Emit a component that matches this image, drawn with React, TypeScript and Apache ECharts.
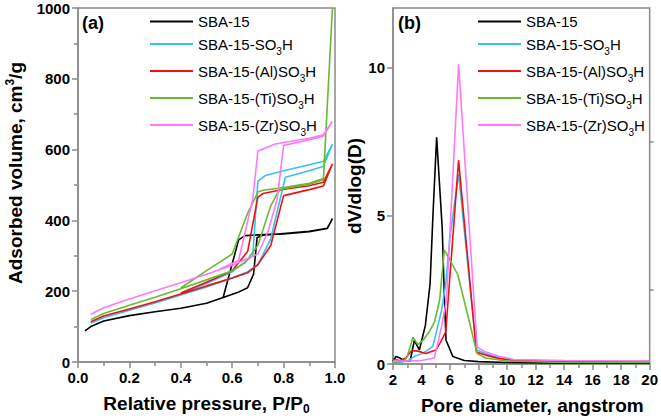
import React, { useEffect, useRef } from 'react';
import * as echarts from 'echarts';

const FONT = "'Liberation Sans', Arial, sans-serif";
const AXIS_COLOR = '#8a8a8a';

const sampleNames = ['SBA-15', 'SBA-15-SO3H', 'SBA-15-(Al)SO3H', 'SBA-15-(Ti)SO3H', 'SBA-15-(Zr)SO3H'];
const sampleColors = ['#000000', '#36c2f0', '#ee1111', '#66bb33', '#ff78f8'];

// Isotherms (a): [P/P0, volume cm3/g], adsorption then desorption branch
const isoSBA15 = [
  [0.027, 88], [0.05, 100], [0.1, 116], [0.2, 131], [0.3, 142], [0.4, 152], [0.5, 166], [0.565, 182],
  [0.62, 196], [0.66, 210], [0.683, 248], [0.697, 352], [0.72, 358], [0.8, 363], [0.9, 369], [0.97, 378], [0.99, 405],
  [0.97, 377], [0.9, 368], [0.8, 362], [0.7, 359], [0.65, 357], [0.625, 345], [0.565, 183],
];
const isoSO3H = [
  [0.05, 110], [0.1, 125], [0.2, 146], [0.3, 167], [0.4, 189], [0.5, 212], [0.6, 237], [0.66, 255],
  [0.7, 275], [0.75, 348], [0.78, 440], [0.807, 522], [0.9, 540], [0.955, 553], [0.99, 615],
  [0.955, 567], [0.9, 557], [0.8, 540], [0.73, 527], [0.7, 511], [0.68, 300], [0.6, 255], [0.5, 222], [0.4, 192],
];
const isoAl = [
  [0.05, 114], [0.1, 130], [0.2, 150], [0.3, 170], [0.4, 192], [0.5, 215], [0.6, 237], [0.66, 252],
  [0.7, 275], [0.75, 329], [0.8, 470], [0.9, 487], [0.955, 497], [0.99, 560],
  [0.955, 508], [0.9, 498], [0.8, 488], [0.72, 476], [0.7, 466], [0.66, 312], [0.6, 258], [0.5, 225], [0.4, 195],
];
const isoTi = [
  [0.05, 120], [0.1, 137], [0.2, 160], [0.3, 183], [0.4, 207], [0.5, 232], [0.6, 258], [0.65, 280],
  [0.7, 330], [0.75, 441], [0.78, 482], [0.8, 490], [0.9, 502], [0.955, 515], [0.99, 1000],
  [0.955, 518], [0.9, 505], [0.8, 493], [0.72, 485], [0.7, 480], [0.66, 420], [0.6, 305], [0.5, 258], [0.4, 209],
];
const isoZr = [
  [0.05, 135], [0.1, 153], [0.2, 178], [0.3, 201], [0.4, 224], [0.5, 248], [0.6, 273], [0.7, 305],
  [0.74, 370], [0.775, 460], [0.8, 612], [0.9, 628], [0.955, 638], [0.99, 680],
  [0.955, 642], [0.9, 632], [0.8, 620], [0.765, 615], [0.7, 596], [0.68, 460], [0.625, 287], [0.55, 262],
];

// Pore size distribution (b): [pore diameter, dV/dlog(D)]
const psdSBA15 = [
  [2.0, 0.1], [2.2, 0.25], [2.5, 0.2], [2.8, 0.1], [3.2, 0.1], [3.5, 0.8], [3.85, 0.47], [4.27, 1.3],
  [4.6, 2.7], [4.8, 5.0], [5.06, 7.64], [5.45, 4.6], [5.6, 2.3], [5.72, 0.8], [6.2, 0.25], [7.0, 0.12],
  [8.0, 0.08], [10, 0.05], [14, 0.03], [20, 0.03],
];
const psdSO3H = [
  [2.0, 0.05], [2.5, 0.05], [3.0, 0.1], [3.5, 0.25], [4.0, 0.35], [4.4, 0.45], [4.8, 0.6], [5.4, 1.8],
  [5.7, 2.7], [6.0, 4.3], [6.6, 6.4], [7.85, 0.48], [8.5, 0.35], [9.5, 0.2], [10.5, 0.13], [14, 0.1], [20, 0.08],
];
const psdAl = [
  [2.0, 0.15], [2.5, 0.12], [2.9, 0.2], [3.25, 0.42], [3.6, 0.45], [4.0, 0.4], [4.3, 0.35], [5.0, 0.47],
  [5.34, 0.74], [5.7, 1.08], [6.6, 6.87], [7.85, 0.4], [8.5, 0.3], [9.5, 0.18], [10.5, 0.12], [14, 0.08], [20, 0.08],
];
const psdTi = [
  [2.0, 0.05], [2.8, 0.1], [3.0, 0.25], [3.4, 0.9], [3.75, 0.65], [4.1, 0.8], [4.5, 1.05], [4.9, 1.4],
  [5.27, 2.15], [5.6, 3.85], [6.0, 3.5], [6.55, 3.0], [7.9, 0.35], [8.5, 0.2], [10, 0.1], [14, 0.05], [20, 0.05],
];
const psdZr = [
  [2.0, 0.1], [3.0, 0.1], [4.0, 0.12], [4.9, 0.2], [5.4, 1.25], [5.75, 2.15], [6.6, 10.1], [7.9, 0.57],
  [8.5, 0.4], [9.5, 0.25], [10.5, 0.15], [14, 0.12], [20, 0.1],
];

const isoData = [isoSBA15, isoSO3H, isoAl, isoTi, isoZr];
const psdData = [psdSBA15, psdSO3H, psdAl, psdTi, psdZr];

const psdMajorTicks = [0, 5, 10];
const psdMinorTicks = [2.5, 7.5];

function legendLabel(name: string): string {
  if (name.endsWith('SO3H')) {
    return '{n|' + name.slice(0, -2) + '}{s|3}{n|H}';
  }
  return '{n|' + name + '}';
}

const legendRich = {
  n: { fontSize: 15, fontFamily: FONT, color: '#000', lineHeight: 18 },
  s: { fontSize: 10, fontFamily: FONT, color: '#000', lineHeight: 18, padding: [14, 0, 0, 0] },
};

const nameRich = {
  b: { fontSize: 19, fontWeight: 'bold', fontFamily: FONT, color: '#000', lineHeight: 22 },
  sup: { fontSize: 12, fontWeight: 'bold', fontFamily: FONT, color: '#000', lineHeight: 22, padding: [0, 0, 10, 0] },
  sub: { fontSize: 12, fontWeight: 'bold', fontFamily: FONT, color: '#000', lineHeight: 22, padding: [12, 0, 0, 0] },
};

const tickLabel = { color: '#000', fontSize: 15, fontWeight: 'bold', fontFamily: FONT, margin: 8 };
const axisLine = { show: true, lineStyle: { color: AXIS_COLOR, width: 1.5 } };
const axisTick = { show: true, length: 6, lineStyle: { color: AXIS_COLOR, width: 1.5 } };
const minorTick = { show: true, splitNumber: 2, length: 4, lineStyle: { color: AXIS_COLOR, width: 1.5 } };

export default function App() {
  const ref = useRef<HTMLDivElement>(null);
  useEffect(() => {
    if (!ref.current) return;
    const chart = echarts.init(ref.current, undefined, { renderer: 'svg' });
    const series: any[] = [];
    sampleNames.forEach((name, i) => {
      series.push({
        type: 'line', name, xAxisIndex: 0, yAxisIndex: 0, data: isoData[i],
        symbol: 'none', showSymbol: false, lineStyle: { color: sampleColors[i], width: 1.6 },
        itemStyle: { color: sampleColors[i] },
      });
    });
    sampleNames.forEach((name, i) => {
      series.push({
        type: 'line', name, xAxisIndex: 1, yAxisIndex: 1, data: psdData[i],
        symbol: 'none', showSymbol: false, lineStyle: { color: sampleColors[i], width: 1.6 },
        itemStyle: { color: sampleColors[i] },
      });
    });
    const legendBase = {
      orient: 'vertical', top: 14, padding: 0, itemWidth: 43, itemHeight: 2, itemGap: 3,
      icon: 'rect',
      data: sampleNames, selectedMode: false,
      formatter: legendLabel,
      textStyle: { rich: legendRich, fontSize: 15, fontFamily: FONT, color: '#000' },
    };
    chart.setOption({
      animation: false,
      backgroundColor: '#fff',
      textStyle: { fontFamily: FONT },
      grid: [
        { left: 78, right: 326, top: 8, bottom: 56, show: true, borderColor: AXIS_COLOR, borderWidth: 1.5, backgroundColor: 'transparent' },
        { left: 393, right: 9, top: 8, bottom: 56, show: true, borderColor: AXIS_COLOR, borderWidth: 1.5, backgroundColor: 'transparent' },
      ],
      legend: [
        { ...legendBase, left: 150 },
        { ...legendBase, left: 478 },
      ],
      xAxis: [
        {
          type: 'value', gridIndex: 0, min: 0, max: 1, interval: 0.2,
          axisLine, axisTick, minorTick, splitLine: { show: false },
          axisLabel: { ...tickLabel, formatter: (v: number) => v.toFixed(1) },
          name: '{b|Relative pressure, P/P}{sub|0}', nameLocation: 'middle', nameGap: 30,
          nameTextStyle: { rich: nameRich },
        },
        {
          type: 'value', gridIndex: 1, min: 2, max: 20, interval: 2,
          axisLine, axisTick, minorTick, splitLine: { show: false },
          axisLabel: { ...tickLabel },
          name: '{b|Pore diameter, angstrom}', nameLocation: 'middle', nameGap: 30,
          nameTextStyle: { rich: nameRich, padding: [0, 0, 0, 22] },
        },
      ],
      yAxis: [
        {
          type: 'value', gridIndex: 0, min: 0, max: 1000, interval: 200,
          axisLine, axisTick, minorTick, splitLine: { show: false },
          axisLabel: { ...tickLabel, formatter: (v: number) => String(v) },
          name: '{b|Adsorbed volume, cm}{sup|3}{b|/g}', nameLocation: 'middle', nameGap: 52, nameRotate: 90,
          nameTextStyle: { rich: nameRich, padding: [0, 0, 0, 24] },
        },
        {
          type: 'value', gridIndex: 1, min: 0, max: 12, interval: 5,
          axisLine, axisTick: { ...axisTick, customValues: psdMajorTicks },
          splitLine: { show: false },
          axisLabel: { ...tickLabel, customValues: psdMajorTicks, formatter: (v: number) => String(v) },
          name: '{b|dV/dlog(D)}', nameLocation: 'middle', nameGap: 24, nameRotate: 90,
          nameTextStyle: { rich: nameRich },
        },
        {
          type: 'value', gridIndex: 1, min: 0, max: 12, interval: 2.5,
          axisLine: { show: false },
          axisTick: { show: true, length: 4, lineStyle: { color: AXIS_COLOR, width: 1.5 }, customValues: psdMinorTicks },
          axisLabel: { show: false }, splitLine: { show: false },
        },
      ],
      graphic: [
        { type: 'text', left: 82, top: 14, style: { text: '(a)', fontSize: 18, fontWeight: 'bold', fontFamily: FONT, fill: '#000' } },
        { type: 'text', left: 398, top: 14, style: { text: '(b)', fontSize: 18, fontWeight: 'bold', fontFamily: FONT, fill: '#000' } },
      ],
      series,
    });
    return () => chart.dispose();
  }, []);
  return <div ref={ref} style={{ position: 'absolute', left: 0, top: 0, width: 661, height: 420 }} />;
}
